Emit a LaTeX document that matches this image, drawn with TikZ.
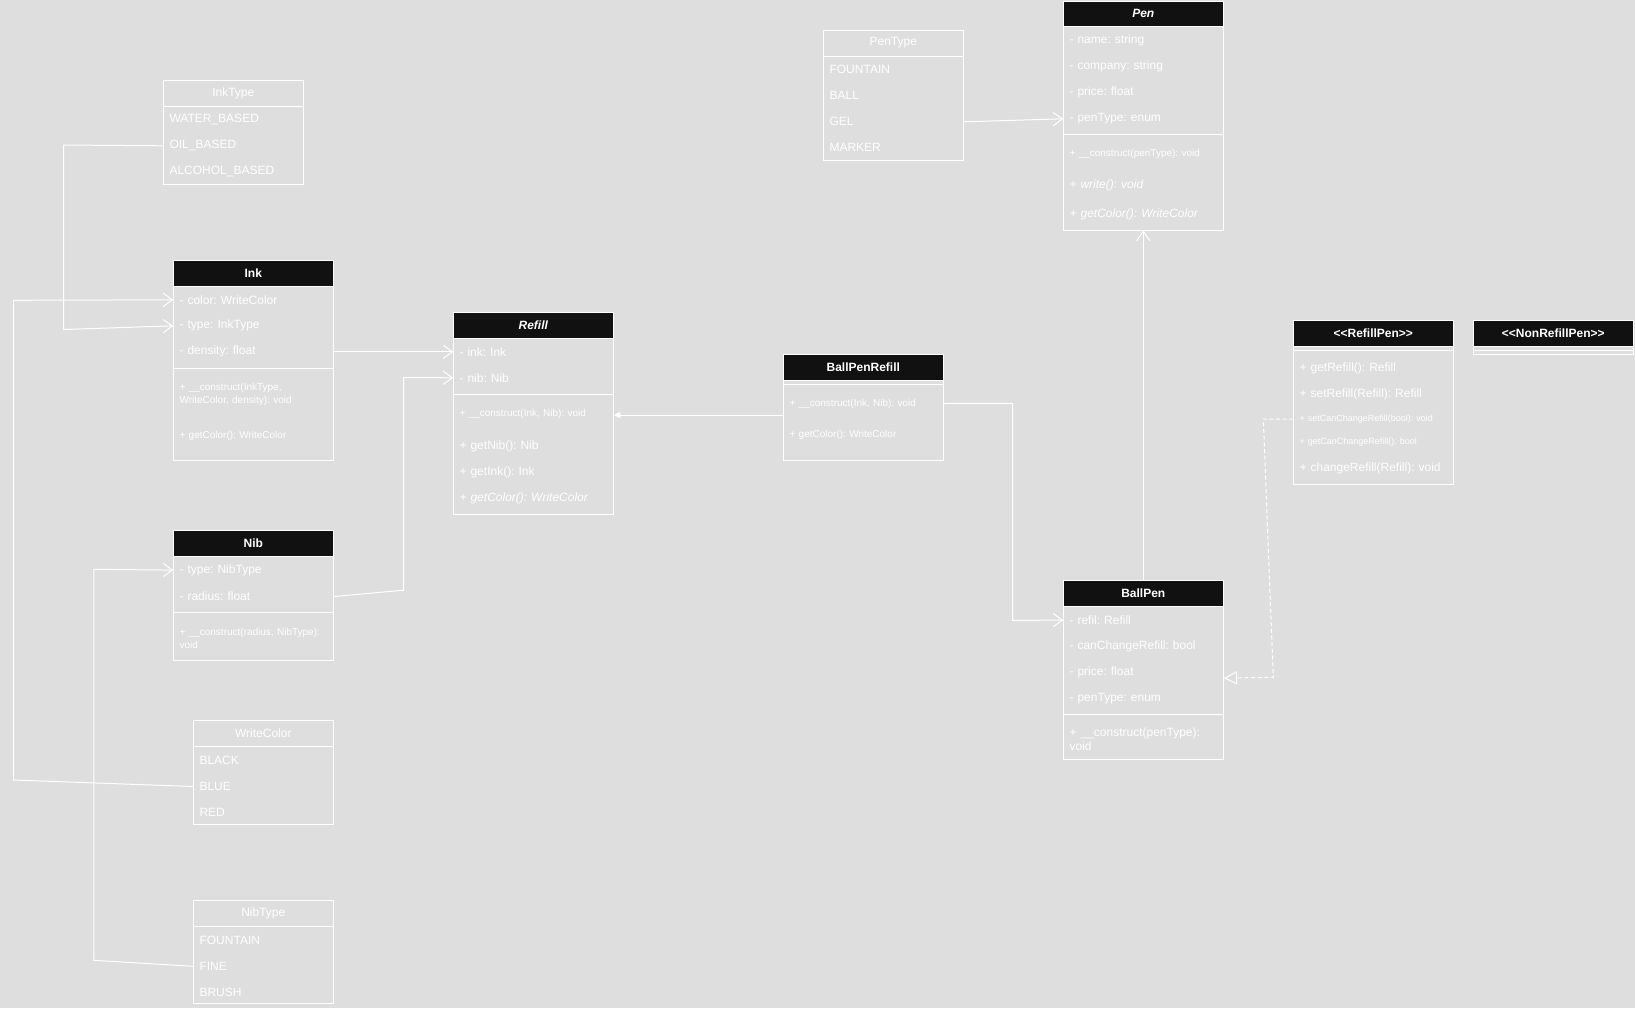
\documentclass[tikz,border=0pt]{standalone}
\usepackage{fontspec}
\setmainfont{Liberation Sans}
\frenchspacing
\usetikzlibrary{arrows.meta, fit, calc}

\definecolor{bg}{RGB}{222,222,222}
\definecolor{hdblack}{RGB}{17,17,17}

\tikzset{
  wline/.style={draw=white, line width=0.75pt},
  cls/.style={wline, inner sep=0pt},
  hd/.style={cls, fill=hdblack, label={[text=white, font=\bfseries\fontsize{9}{11}\selectfont]center:#1}},
  ehd/.style={cls, label={[text=white, font=\fontsize{9}{11}\selectfont]center:#1}},
  attr/.style={anchor=west, text=white, text width=111pt, inner xsep=4.5pt, inner ysep=0pt, align=left, yshift=-0.6pt, font=\fontsize{9}{10.5}\selectfont},
  lit/.style={attr, text width=96pt},
  smalltxt/.style={font=\fontsize{7.5}{10}\selectfont},
  tinytxt/.style={font=\fontsize{6.75}{9}\selectfont},
  assoc/.style={wline, -{Straight Barb[length=7pt,width=10pt]}},
  owns/.style={wline, -{Triangle[length=5pt,width=5pt,fill=white]}},
  impl/.style={wline, dash pattern=on 3pt off 2pt, -{Triangle[open,length=10pt,width=10pt]}},
}

\begin{document}
\begin{tikzpicture}[x=0.75pt, y=-0.75pt]
  \fill[bg] (0,0) rectangle (1635,1008);
  \useasboundingbox (0,0) rectangle (1635,1008);

  % enums
  \node[cls, fit={(163.3,80) (303.3,184)}] (inktype) {};
  \node[ehd=InkType, fit={(163.3,80) (303.3,106)}] (inktype-hd) {};
  \foreach \nm/\yy/\txt in {water/119/WATER\_BASED, oil/145/OIL\_BASED, alcohol/171/ALCOHOL\_BASED}
    \node[lit] (inktype-\nm) at (163.3,\yy) {\txt};

  \node[cls, fit={(823.3,30) (963.3,160)}] (pentype) {};
  \node[ehd=PenType, fit={(823.3,30) (963.3,56)}] (pentype-hd) {};
  \foreach \nm/\yy/\txt in {fountain/69/FOUNTAIN, ball/95/BALL, gel/121/GEL, marker/147/MARKER}
    \node[lit] (pentype-\nm) at (823.3,\yy) {\txt};

  \node[cls, fit={(193.3,720) (333.3,824.3)}] (writecolor) {};
  \node[ehd=WriteColor, fit={(193.3,720) (333.3,746.7)}] (writecolor-hd) {};
  \foreach \nm/\yy/\txt in {black/759.3/BLACK, blue/785.7/BLUE, red/811.7/RED}
    \node[lit] (writecolor-\nm) at (193.3,\yy) {\txt};

  \node[cls, fit={(193.3,900) (333.3,1003.3)}] (nibtype) {};
  \node[ehd=NibType, fit={(193.3,900) (333.3,926)}] (nibtype-hd) {};
  \foreach \nm/\yy/\txt in {fountain/939.5/FOUNTAIN, fine/965.5/FINE, brush/991.5/BRUSH}
    \node[lit] (nibtype-\nm) at (193.3,\yy) {\txt};

  % Ink
  \node[cls, fit={(173.3,260) (333.3,460)}] (ink) {};
  \node[hd=Ink, fit={(173.3,260) (333.3,286)}] (ink-hd) {};
  \foreach \nm/\yy/\txt in {color/299/{- color: WriteColor}, type/325/{- type: InkType}, density/351/{- density: float}}
    \node[attr] (ink-\nm) at (173.3,\yy) {\txt};
  \draw[wline] (173.3,368) -- (333.3,368);
  \node[attr, smalltxt] (ink-construct) at (173.3,393.7) {+ \_\_construct(InkType,\\WriteColor, density): void};
  \node[attr, smalltxt] (ink-getcolor) at (173.3,435) {+ getColor(): WriteColor};

  % Nib
  \node[cls, fit={(173.3,530) (333.3,660)}] (nib) {};
  \node[hd=Nib, fit={(173.3,530) (333.3,556)}] (nib-hd) {};
  \node[attr] (nib-type) at (173.3,569.3) {- type: NibType};
  \node[attr] (nib-radius) at (173.3,595.7) {- radius: float};
  \draw[wline] (173.3,612.3) -- (333.3,612.3);
  \node[attr, smalltxt] (nib-construct) at (173.3,637.5) {+ \_\_construct(radius, NibType):\\void};

  % Refill
  \node[cls, fit={(453.3,312) (613.3,514)}] (refill) {};
  \node[hd={\itshape Refill}, fit={(453.3,312) (613.3,338)}] (refill-hd) {};
  \node[attr] (refill-ink) at (453.3,351) {- ink: Ink};
  \node[attr] (refill-nib) at (453.3,377) {- nib: Nib};
  \draw[wline] (453.3,394) -- (613.3,394);
  \node[attr, smalltxt] (refill-construct) at (453.3,412.7) {+ \_\_construct(Ink, Nib): void};
  \foreach \nm/\yy/\txt in {getnib/446/{+ getNib(): Nib}, getink/471.7/{+ getInk(): Ink}, getcolor/497.7/{\itshape + getColor(): WriteColor}}
    \node[attr] (refill-\nm) at (453.3,\yy) {\txt};

  % BallPenRefill
  \node[cls, fit={(783.3,354) (943.3,460)}] (bpr) {};
  \node[hd=BallPenRefill, fit={(783.3,354) (943.3,380)}] (bpr-hd) {};
  \draw[wline] (783.3,384) -- (943.3,384);
  \node[attr, smalltxt] (bpr-construct) at (783.3,402.7) {+ \_\_construct(Ink, Nib): void};
  \node[attr, smalltxt] (bpr-getcolor) at (783.3,434.3) {+ getColor(): WriteColor};

  % Pen
  \node[cls, fit={(1063.3,1) (1223.3,230)}] (pen) {};
  \node[hd={\itshape Pen}, fit={(1063.3,1) (1223.3,26)}] (pen-hd) {};
  \foreach \nm/\yy/\txt in {name/40/{- name: string}, company/66/{- company: string}, price/92/{- price: float}, pentype/118/{- penType: enum}}
    \node[attr] (pen-\nm) at (1063.3,\yy) {\txt};
  \draw[wline] (1063.3,134) -- (1223.3,134);
  \node[attr, smalltxt] (pen-construct) at (1063.3,152.7) {+ \_\_construct(penType): void};
  \node[attr] (pen-write) at (1063.3,184.3) {\itshape + write(): void};
  \node[attr] (pen-getcolor) at (1063.3,214) {\itshape + getColor(): WriteColor};

  % BallPen
  \node[cls, fit={(1063.3,580) (1223.3,759.3)}] (ballpen) {};
  \node[hd=BallPen, fit={(1063.3,580) (1223.3,606)}] (ballpen-hd) {};
  \foreach \nm/\yy/\txt in {refil/619.3/{- refil: Refill}, canchange/645.7/{- canChangeRefill: bool}, price/671.7/{- price: float}, pentype/697.7/{- penType: enum}}
    \node[attr] (ballpen-\nm) at (1063.3,\yy) {\txt};
  \draw[wline] (1063.3,714.3) -- (1223.3,714.3);
  \node[attr] (ballpen-construct) at (1063.3,738.7) {+ \_\_construct(penType):\\void};

  % interfaces
  \node[cls, fit={(1293.3,320) (1453.3,484.3)}] (refillpen) {};
  \node[hd={<\kern0pt<RefillPen>\kern0pt>}, fit={(1293.3,320) (1453.3,346)}] (refillpen-hd) {};
  \draw[wline] (1293.3,350) -- (1453.3,350);
  \node[attr] (refillpen-get) at (1293.3,367.3) {+ getRefill(): Refill};
  \node[attr] (refillpen-set) at (1293.3,394) {+ setRefill(Refill): Refill};
  \node[attr, tinytxt] (refillpen-setcan) at (1293.3,418.3) {+ setCanChangeRefill(bool): void};
  \node[attr, tinytxt] (refillpen-getcan) at (1293.3,441.7) {+ getCanChangeRefill(): bool};
  \node[attr] (refillpen-change) at (1293.3,467.7) {+ changeRefill(Refill): void};

  \node[cls, fit={(1473.3,320) (1633.3,354)}] (nonrefillpen) {};
  \node[hd={<\kern0pt<NonRefillPen>\kern0pt>}, fit={(1473.3,320) (1633.3,346)}] (nonrefillpen-hd) {};
  \draw[wline] (1473.3,350) -- (1633.3,350);

  % connectors
  \draw[assoc] (inktype-oil.west) -- (63.6,145) -- (63.6,329.5) -- (ink-type.west);
  \draw[assoc] (writecolor-blue.west) -- (13.6,780) -- (13.6,300.3) -- (ink-color.west);
  \draw[assoc] (nibtype-fine.west) -- (93.8,960.3) -- (93.8,569.3) -- (nib-type.west);
  \draw[assoc] (ink-density.east) -- (refill-ink.west);
  \draw[assoc] (nib-radius.east) -- (403.5,590.2) -- (403.5,377.5) -- (refill-nib.west);
  \coordinate (bpr-in) at ([yshift=-6pt]bpr.west);
  \draw[owns] (bpr-in) -- (bpr-in -| refill.east);
  \draw[assoc] (bpr-construct.east) -- (1012.5,403.3) -- (1012.5,620.4) -- (ballpen-refil.west);
  \draw[assoc] (pentype-gel.east) -- (pen-pentype.west);
  \draw[assoc] (ballpen-hd.north) -- (pen.south);
  \coordinate (bp-in) at ([yshift=-4.2pt]ballpen-price.east);
  \draw[impl] (refillpen-setcan.west) -- (1263.3,419) -- (1273.3,677.3) -- (bp-in);
\end{tikzpicture}
\end{document}
